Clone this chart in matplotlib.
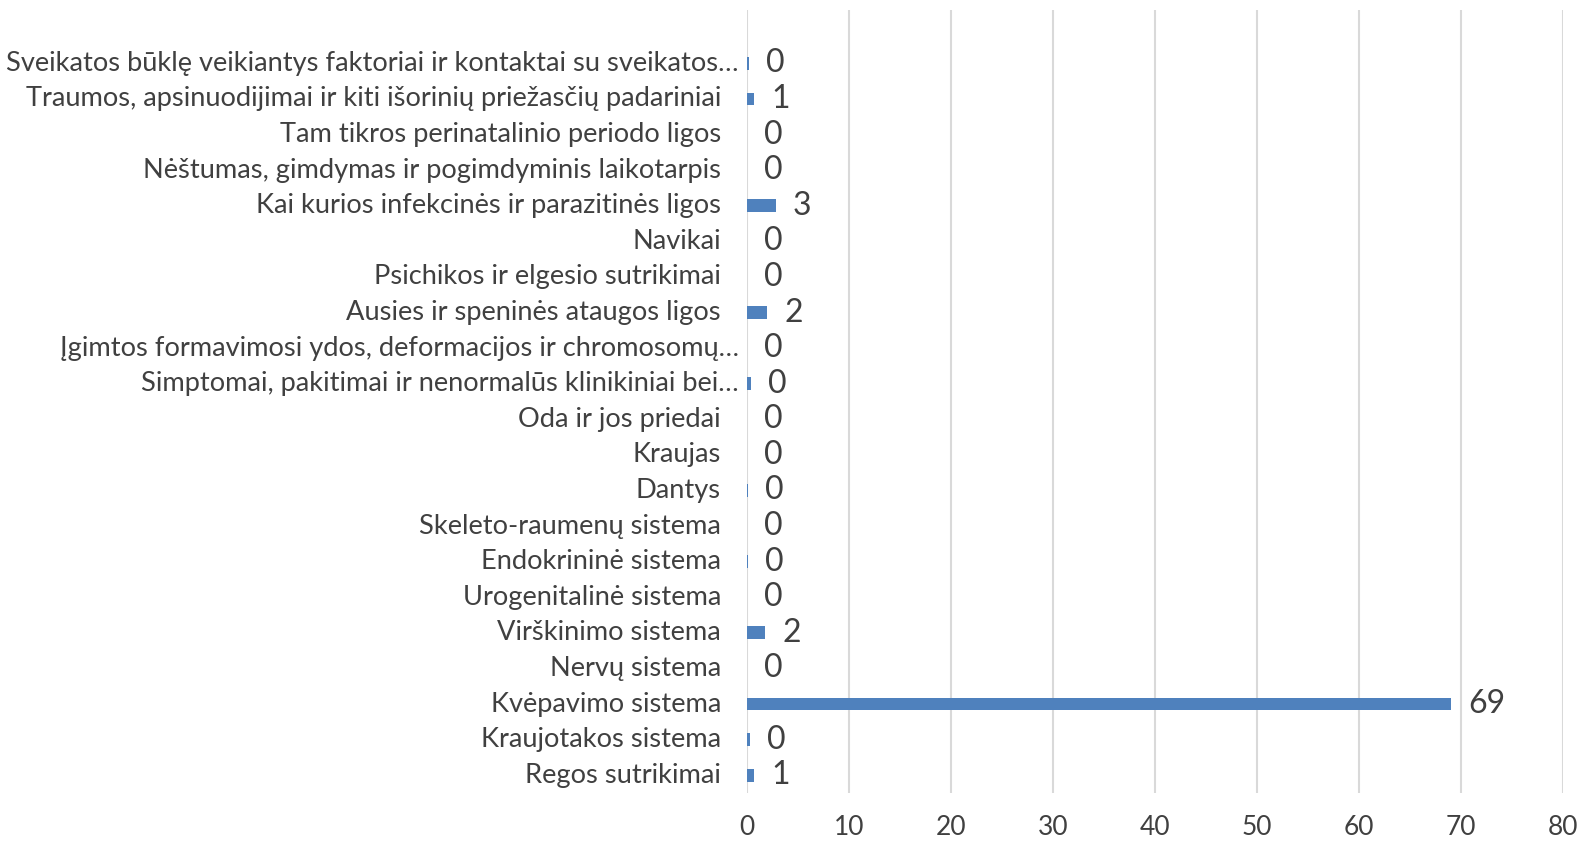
import matplotlib
matplotlib.use('Agg')
import matplotlib.pyplot as plt
import matplotlib.transforms as mtransforms
import numpy as np

categories = [
    'Regos sutrikimai',
    'Kraujotakos sistema',
    'Kvėpavimo sistema',
    'Nervų sistema',
    'Virškinimo sistema',
    'Urogenitalinė sistema',
    'Endokrininė sistema',
    'Skeleto-raumenų sistema',
    'Dantys',
    'Kraujas',
    'Oda ir jos priedai',
    'Simptomai, pakitimai ir nenormalūs klinikiniai bei…',
    'Įgimtos formavimosi ydos, deformacijos ir chromosomų…',
    'Ausies ir speninės ataugos ligos',
    'Psichikos ir elgesio sutrikimai',
    'Navikai',
    'Kai kurios infekcinės ir parazitinės ligos',
    'Nėštumas, gimdymas ir pogimdyminis laikotarpis',
    'Tam tikros perinatalinio periodo ligos',
    'Traumos, apsinuodijimai ir kiti išorinių priežasčių padariniai',
    'Sveikatos būklę veikiantys faktoriai ir kontaktai su sveikatos…',
]
values = [0.7, 0.3, 69, 0, 1.8, 0, 0.1, 0, 0.1, 0, 0, 0.4, 0, 2.0, 0, 0, 2.85, 0, 0, 0.7, 0.15]
xticks = [0, 10, 20, 30, 40, 50, 60, 70, 80]

bar_color = '#4F81BD'
text_color = '#404040'
plt.rcParams['font.family'] = ['Lato', 'DejaVu Sans']

fig = plt.figure(figsize=(15.84, 8.42), dpi=100)
ax = fig.add_axes([747 / 1584, 1 - 793 / 842, (1563 - 747) / 1584, (793 - 10) / 842])

y = np.arange(len(categories))
ax.barh(y, values, height=0.36, color=bar_color, zorder=3)

ax.set_xlim(0, 80)
ax.set_ylim(-0.5, len(categories) + 0.5)
ax.set_xticks(xticks)
ax.set_xticklabels([str(t) for t in xticks], fontsize=19, color=text_color)
ax.tick_params(axis='x', length=0, pad=16)
ax.set_yticks([])
ax.grid(axis='x', color='#D9D9D9', linewidth=1.5, zorder=0)
for s in ax.spines.values():
    s.set_visible(False)

# category labels, truncated ones sit closer to the axis
trans = mtransforms.blended_transform_factory(ax.transAxes, ax.transData)
for yi, cat in zip(y, categories):
    off = -8 if cat.endswith('…') else -26
    t = trans + mtransforms.ScaledTranslation(off / 100, 0, fig.dpi_scale_trans)
    ax.text(0, yi, cat, transform=t, ha='right', va='center',
            fontsize=19.6, color=text_color)

# data labels
for yi, v in zip(y, values):
    t = ax.transData + mtransforms.ScaledTranslation(17 / 100, 0, fig.dpi_scale_trans)
    ax.text(v, yi, f'{v:.0f}', transform=t, ha='left', va='center',
            fontsize=23, color=text_color)

fig.savefig('out.png', dpi=100)
